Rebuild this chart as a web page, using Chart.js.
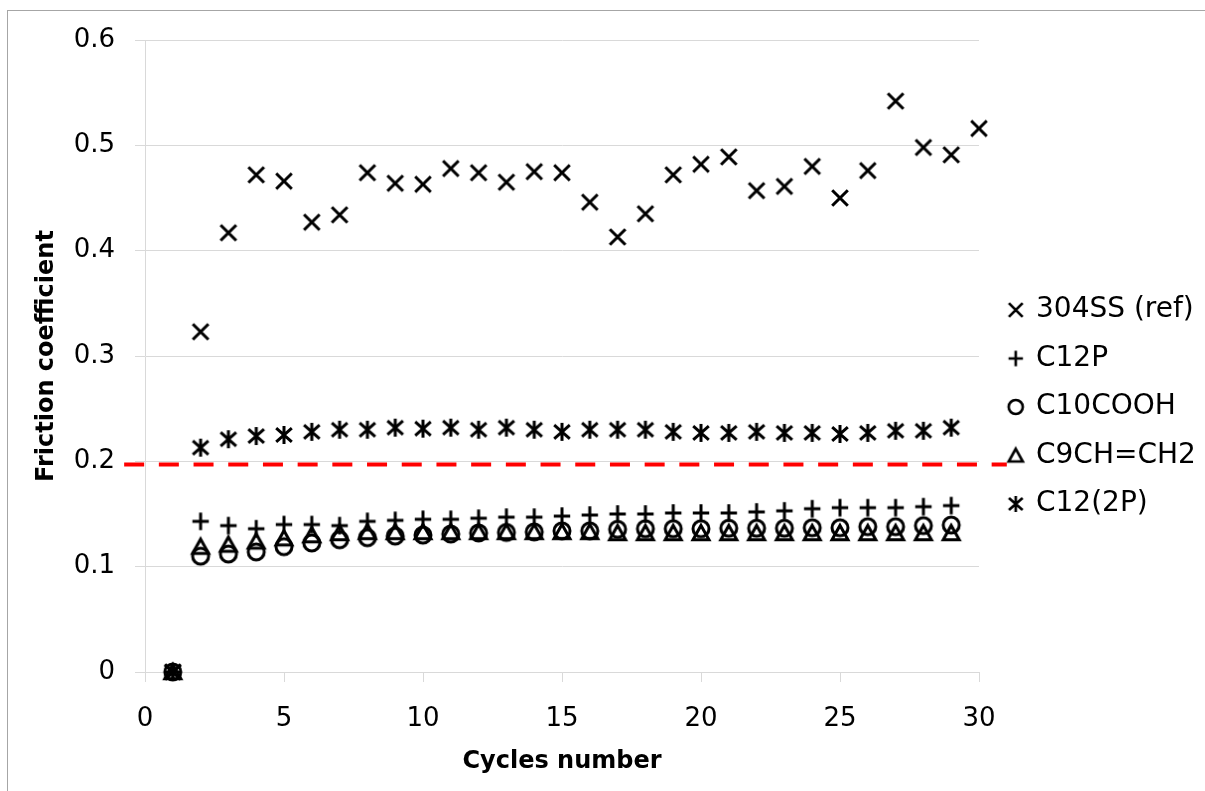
<!DOCTYPE html>
<html><head><meta charset="utf-8">
<script src="https://cdn.jsdelivr.net/npm/chart.js@4.4.1/dist/chart.umd.min.js"></script>
<style>
html,body{margin:0;padding:0;background:#fff;}
#wrap{position:relative;width:1205px;height:791px;overflow:hidden;background:#fff;}
#c{position:absolute;left:0;top:0;}
#frame{position:absolute;left:7px;top:10px;width:1300px;height:1000px;border:1px solid #a6a6a6;pointer-events:none;}
</style></head><body>
<div id="wrap"><canvas id="c" width="1205" height="791"></canvas><div id="frame"></div></div>
<script>
// ---- data ----
const cyclesRef = [1,2,3,4,5,6,7,8,9,10,11,12,13,14,15,16,17,18,19,20,21,22,23,24,25,26,27,28,29,30];
const cycles = [1,2,3,4,5,6,7,8,9,10,11,12,13,14,15,16,17,18,19,20,21,22,23,24,25,26,27,28,29];
const ss304 = [0,0.323,0.417,0.472,0.466,0.427,0.434,0.474,0.464,0.463,0.478,0.474,0.465,0.475,0.474,0.446,0.413,0.435,0.472,0.482,0.489,0.457,0.461,0.480,0.450,0.476,0.542,0.498,0.491,0.516];
const c12p = [0,0.143,0.139,0.136,0.140,0.140,0.139,0.143,0.144,0.145,0.145,0.146,0.147,0.147,0.148,0.149,0.150,0.150,0.151,0.151,0.151,0.152,0.153,0.155,0.156,0.156,0.156,0.157,0.158];
const c10cooh = [0,0.110,0.112,0.114,0.119,0.1225,0.1255,0.1275,0.129,0.130,0.131,0.132,0.1325,0.133,0.134,0.134,0.1355,0.136,0.136,0.136,0.1365,0.1365,0.1365,0.137,0.137,0.138,0.138,0.139,0.1395];
const c9chch2 = [0,0.119,0.121,0.124,0.127,0.130,0.132,0.133,0.133,0.133,0.133,0.133,0.133,0.133,0.133,0.133,0.132,0.132,0.132,0.132,0.132,0.132,0.132,0.132,0.132,0.132,0.132,0.132,0.132];
const c12_2p = [0,0.213,0.221,0.224,0.225,0.228,0.230,0.230,0.232,0.231,0.232,0.230,0.232,0.230,0.228,0.230,0.230,0.230,0.228,0.227,0.227,0.228,0.227,0.227,0.226,0.227,0.229,0.229,0.232];
const seriesNames = ['304SS (ref)','C12P','C10COOH','C9CH=CH2','C12(2P)'];
const dashedLevel = 0.197;
const xTickLabels = ['0','5','10','15','20','25','30'];
const yTickLabels = ['0','0.1','0.2','0.3','0.4','0.5','0.6'];

// ---- marker images ----
function makeMarker(kind, k, shiftX) {
  const dim = 28;
  const w = dim + 2 * Math.abs(shiftX);
  const c = document.createElement('canvas');
  c.width = w; c.height = dim;
  const g = c.getContext('2d');
  g.translate(w/2 + shiftX, dim/2);
  g.scale(k, k);
  g.strokeStyle = '#000';
  g.lineWidth = 3;
  g.beginPath();
  if (kind === 'x') {
    g.moveTo(-7.8,-7.8); g.lineTo(7.8,7.8); g.moveTo(7.8,-7.8); g.lineTo(-7.8,7.8);
  } else if (kind === '+') {
    g.moveTo(-8.2,0); g.lineTo(8.2,0); g.moveTo(0,-8.7); g.lineTo(0,8.7);
  } else if (kind === 'o') {
    g.arc(0,0,8,0,Math.PI*2);
  } else if (kind === 't') {
    g.moveTo(0,-7.6); g.lineTo(8,6.8); g.lineTo(-8,6.8); g.closePath();
  } else if (kind === '*') {
    g.moveTo(-7.8,-6.8); g.lineTo(7.8,6.8); g.moveTo(7.8,-6.8); g.lineTo(-7.8,6.8);
    g.moveTo(0,-9); g.lineTo(0,9);
  }
  g.stroke();
  return c;
}
const kinds = ['x','+','o','t','*'];
const plotMarkers = kinds.map(k => makeMarker(k, 1, 0));
const legendMarkers = kinds.map(k => makeMarker(k, 0.88, 5));

const xs = [cyclesRef, cycles, cycles, cycles, cycles];
const ys = [ss304, c12p, c10cooh, c9chch2, c12_2p];
const datasets = ys.map((vals, i) => ({
  label: seriesNames[i],
  data: vals.map((v, j) => ({x: xs[i][j], y: v})),
  pointStyle: plotMarkers[i],
  pointRadius: 8,
  showLine: false,
  clip: false,
  borderColor: '#000',
  backgroundColor: 'transparent',
  order: 5 - i
}));

const refLinePlugin = {
  id: 'refLine',
  afterDatasetsDraw(chart) {
    const {ctx, scales: {x, y}} = chart;
    const py = y.getPixelForValue(dashedLevel);
    const x1 = x.getPixelForValue(-0.75);
    const x2 = x.getPixelForValue(31.0);
    ctx.save();
    ctx.strokeStyle = '#ff0000';
    ctx.lineWidth = 4;
    ctx.setLineDash([20, 14.7]);
    ctx.beginPath();
    ctx.moveTo(x1, py);
    ctx.lineTo(x2, py);
    ctx.stroke();
    ctx.restore();
  }
};

const tickFont = {family: 'DejaVu Sans', size: 26};
const titleFont = {family: 'DejaVu Sans', size: 24, weight: 'bold'};

new Chart(document.getElementById('c'), {
  type: 'scatter',
  data: {datasets},
  plugins: [refLinePlugin],
  options: {
    responsive: false,
    animation: false,
    events: [],
    devicePixelRatio: 1,
    layout: {padding: {left: 10, top: 40, right: 6, bottom: 6.6}},
    plugins: {
      tooltip: {enabled: false},
      legend: {
        position: 'right',
        align: 'start',
        maxWidth: 220,
        title: {display: true, text: '', font: {size: 10}, padding: {top: 223.5, bottom: 0}},
        labels: {
          usePointStyle: true,
          pointStyleWidth: 22.5,
          padding: 20.5,
          color: '#000',
          font: {family: 'DejaVu Sans', size: 28},
          generateLabels(chart) {
            return chart.data.datasets.map((ds, i) => ({
              text: ds.label,
              pointStyle: legendMarkers[i],
              fillStyle: 'transparent',
              strokeStyle: '#000',
              lineWidth: 0,
              hidden: false,
              datasetIndex: i,
              fontColor: '#000'
            }));
          }
        }
      }
    },
    scales: {
      x: {
        type: 'linear', min: 0, max: 30,
        ticks: {stepSize: 5, font: tickFont, color: '#000', padding: 22, maxRotation: 0,
          callback: v => xTickLabels[Math.round(v / 5)]},
        grid: {drawOnChartArea: false, drawTicks: true, tickLength: 10, color: '#d9d9d9'},
        border: {color: '#d9d9d9'},
        title: {display: true, text: 'Cycles number', font: titleFont, color: '#000', padding: {top: 0, bottom: 8}},
        afterFit(s) { s.height = 112.4; }
      },
      y: {
        min: 0, max: 0.6,
        ticks: {stepSize: 0.1, font: tickFont, color: '#000', padding: 20,
          callback: v => yTickLabels[Math.round(v / 0.1)]},
        grid: {color: '#d9d9d9', tickLength: 10},
        border: {color: '#d9d9d9'},
        title: {display: true, text: 'Friction coefficient', font: titleFont, color: '#000', padding: {top: 22.6, bottom: 0}},
        afterFit(s) { s.width = 135; }
      }
    }
  }
});
</script>
</body></html>
